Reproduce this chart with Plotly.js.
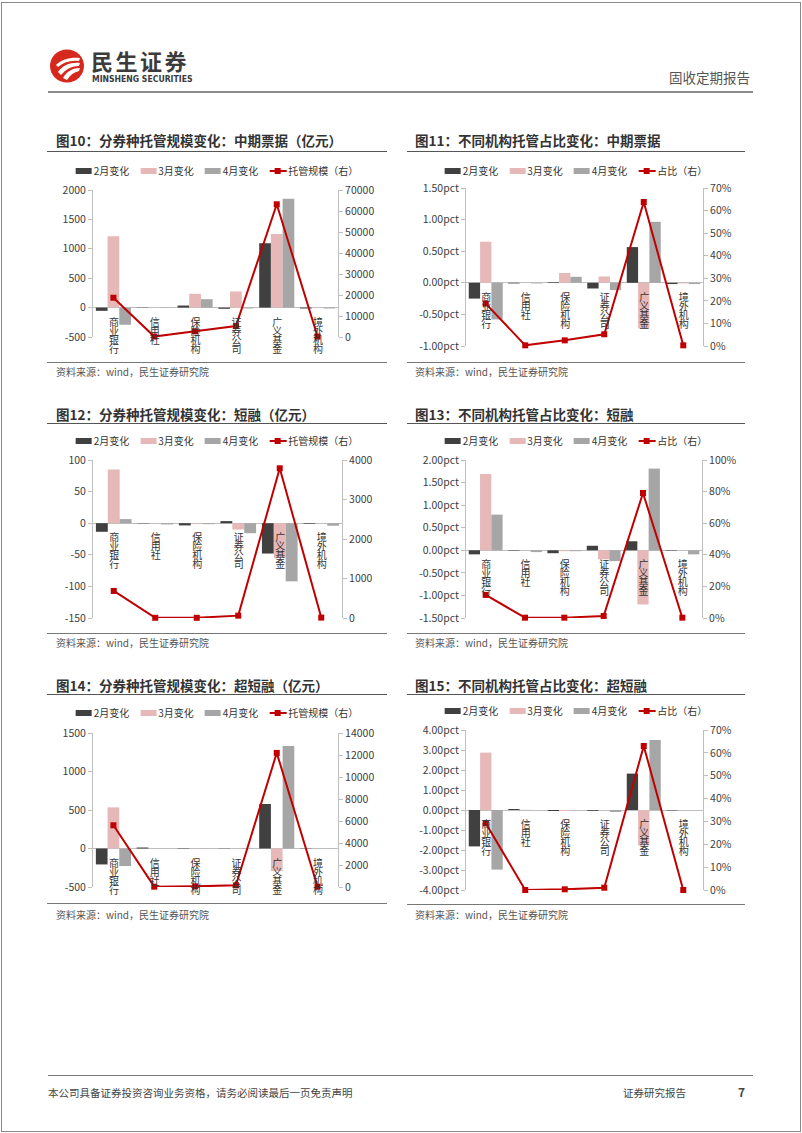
<!DOCTYPE html>
<html>
<head>
<meta charset="utf-8">
<script src="https://cdn.plot.ly/plotly-3.0.1.min.js"></script>
<style>
  html, body { margin: 0; padding: 0; background: #fff; }
  body { width: 802px; height: 1133px; position: relative; overflow: hidden;
         font-family: "Noto Sans CJK SC", "Noto Sans", sans-serif; }
  .abs { position: absolute; white-space: nowrap; }
  .frame { position: absolute; left: 1px; top: 2px; width: 798px; height: 1128px; border: 1px solid #8a8a8a; }
  .title { font-size: 13.5px; font-weight: bold; color: #333; line-height: 18px; }
  .tline { position: absolute; height: 0; border-top: 1.5px solid #555; }
  .sline { position: absolute; height: 0; border-top: 1px solid #777; }
  .src { font-size: 10px; color: #555; line-height: 14px; }
  .chart { position: absolute; }
  .legend { position: absolute; display: flex; align-items: center; transform: translate(-50%, -50%);
            font-size: 10px; color: #333; line-height: 14px; white-space: nowrap; }
  .legend .item { display: flex; align-items: center; margin-right: 11px; }
  .legend .item:last-child { margin-right: 0; }
  .legend .sw { width: 16px; height: 6px; margin-right: 2px; }
  .legend .ln { position: relative; width: 17px; height: 2px; margin-right: 2px; }
  .legend .ln i { position: absolute; left: 5.5px; top: -2px; width: 6px; height: 6px; }
  .catlab { position: absolute; writing-mode: vertical-rl; text-orientation: upright;
            font-size: 10px; letter-spacing: -1px; line-height: 10px; color: #333;
            transform: translateX(-50%); white-space: nowrap; }
</style>
</head>
<body>
<div class="frame"></div>

<!-- header -->
<svg class="abs" style="left:49px;top:48px" width="38" height="38" viewBox="0 0 38 38">
  <ellipse cx="18" cy="18" rx="17" ry="16.5" fill="#d7281e"/>
  <path d="M7 17 C13 11 22 9 31 10 L30 13 C22 12 15 14 9 19 Z" fill="#fff"/>
  <path d="M9 24 C14 17 22 14 31 15 L30 18 C23 18 17 21 12 27 Z" fill="#fff"/>
  <path d="M14 30 C18 23 24 20 31 20 L30 23 C25 24 21 27 18 32 Z" fill="#fff"/>
</svg>
<div class="abs" style="left:91px;top:46px;font-size:22px;font-weight:bold;color:#3b3b3b;letter-spacing:2.5px;line-height:28px;">民生证券</div>
<div class="abs" style="left:92px;top:73px;font-size:8.6px;font-weight:bold;color:#3b3b3b;line-height:12px;font-family:'Liberation Sans Narrow','DejaVu Sans Condensed','Liberation Sans',sans-serif;">MINSHENG SECURITIES</div>
<div class="abs" style="left:669px;top:68px;font-size:13.5px;color:#555;line-height:18px;">固收定期报告</div>
<div class="tline" style="left:48px;top:91px;width:705px;border-top:2px solid #8c8c8c;"></div>

<!-- titles -->
<div class="abs title" style="left:56px;top:131px;">图10：分券种托管规模变化：中期票据（亿元）</div>
<div class="tline" style="left:47px;top:151px;width:340px;"></div>
<div class="abs title" style="left:415px;top:131px;">图11：不同机构托管占比变化：中期票据</div>
<div class="tline" style="left:407px;top:151px;width:338px;"></div>

<div class="abs title" style="left:56px;top:405px;">图12：分券种托管规模变化：短融（亿元）</div>
<div class="tline" style="left:47px;top:423px;width:340px;"></div>
<div class="abs title" style="left:415px;top:405px;">图13：不同机构托管占比变化：短融</div>
<div class="tline" style="left:407px;top:423px;width:338px;"></div>

<div class="abs title" style="left:56px;top:676px;">图14：分券种托管规模变化：超短融（亿元）</div>
<div class="tline" style="left:47px;top:694px;width:340px;"></div>
<div class="abs title" style="left:415px;top:676px;">图15：不同机构托管占比变化：超短融</div>
<div class="tline" style="left:407px;top:694px;width:338px;"></div>

<!-- charts -->
<div id="c10" class="chart"></div>
<div id="c11" class="chart"></div>
<div id="c12" class="chart"></div>
<div id="c13" class="chart"></div>
<div id="c14" class="chart"></div>
<div id="c15" class="chart"></div>

<!-- sources -->
<div class="sline" style="left:47px;top:362px;width:340px;"></div>
<div class="abs src" style="left:56px;top:365px;">资料来源：wind，民生证券研究院</div>
<div class="sline" style="left:407px;top:362px;width:338px;"></div>
<div class="abs src" style="left:415px;top:365px;">资料来源：wind，民生证券研究院</div>

<div class="sline" style="left:47px;top:633px;width:340px;"></div>
<div class="abs src" style="left:56px;top:636px;">资料来源：wind，民生证券研究院</div>
<div class="sline" style="left:407px;top:633px;width:338px;"></div>
<div class="abs src" style="left:415px;top:636px;">资料来源：wind，民生证券研究院</div>

<div class="sline" style="left:47px;top:903px;width:340px;"></div>
<div class="abs src" style="left:56px;top:908px;">资料来源：wind，民生证券研究院</div>
<div class="sline" style="left:407px;top:904px;width:338px;"></div>
<div class="abs src" style="left:415px;top:908px;">资料来源：wind，民生证券研究院</div>

<!-- footer -->
<div class="tline" style="left:48px;top:1075px;width:705px;border-top:1.5px solid #777;"></div>
<div class="abs" style="left:48px;top:1085px;font-size:10.5px;color:#444;line-height:15px;">本公司具备证券投资咨询业务资格，请务必阅读最后一页免责声明</div>
<div class="abs" style="left:623px;top:1085px;font-size:10.5px;color:#444;line-height:15px;">证券研究报告</div>
<div class="abs" style="left:738px;top:1084px;font-size:12px;font-weight:bold;color:#444;line-height:16px;">7</div>

<script>
// ---------------- data ----------------
const categories = ['商业银行', '信用社', '保险机构', '证券公司', '广义基金', '境外机构'];
const seriesNames = ['2月变化', '3月变化', '4月变化'];

// 图10 中期票据 托管规模变化（亿元）
const mtnScaleFeb = [-55, -5, 35, -20, 1095, -15];
const mtnScaleMar = [1215, -3, 235, 275, 1250, -5];
const mtnScaleApr = [-292, -5, 143, -15, 1852, -15];
const mtnScaleTotal = [18700, 200, 2700, 5200, 63200, 200];
const mtnScaleLeftTicks = [-500, 0, 500, 1000, 1500, 2000];
const mtnScaleLeftLabels = ['-500', '0', '500', '1000', '1500', '2000'];
const mtnScaleRightTicks = [0, 10000, 20000, 30000, 40000, 50000, 60000, 70000];
const mtnScaleRightLabels = ['0', '10000', '20000', '30000', '40000', '50000', '60000', '70000'];

// 图11 中期票据 占比变化
const mtnShareFeb = [-0.25, -0.01, 0.01, -0.09, 0.565, -0.02];
const mtnShareMar = [0.65, 0.0, 0.155, 0.10, -0.72, -0.01];
const mtnShareApr = [-0.58, -0.01, 0.095, -0.115, 0.965, -0.02];
const mtnShareTotal = [18.8, 0.3, 2.5, 5.2, 63.8, 0.3];
const mtnShareLeftTicks = [-1.0, -0.5, 0, 0.5, 1.0, 1.5];
const mtnShareLeftLabels = ['-1.00pct', '-0.50pct', '0.00pct', '0.50pct', '1.00pct', '1.50pct'];
const mtnShareRightTicks = [0, 10, 20, 30, 40, 50, 60, 70];
const mtnShareRightLabels = ['0%', '10%', '20%', '30%', '40%', '50%', '60%', '70%'];

// 图12 短融 托管规模变化（亿元）
const cpScaleFeb = [-13.6, -0.5, -3.5, 3.3, -48, -1];
const cpScaleMar = [85, 0, -1, -10, -55, 0];
const cpScaleApr = [6.5, -2, -1.5, -15.8, -92, -4];
const cpScaleTotal = [685, 5, 5, 60, 3790, 10];
const cpScaleLeftTicks = [-150, -100, -50, 0, 50, 100];
const cpScaleLeftLabels = ['-150', '-100', '-50', '0', '50', '100'];
const cpScaleRightTicks = [0, 1000, 2000, 3000, 4000];
const cpScaleRightLabels = ['0', '1000', '2000', '3000', '4000'];

// 图13 短融 占比变化
const cpShareFeb = [-0.09, -0.01, -0.065, 0.10, 0.20, -0.01];
const cpShareMar = [1.69, 0, -0.02, -0.20, -1.20, 0];
const cpShareApr = [0.79, -0.04, -0.02, -0.24, 1.81, -0.09];
const cpShareTotal = [14.6, 0.2, 0.2, 1.3, 79.1, 0.2];
const cpShareLeftTicks = [-1.5, -1.0, -0.5, 0, 0.5, 1.0, 1.5, 2.0];
const cpShareLeftLabels = ['-1.50pct', '-1.00pct', '-0.50pct', '0.00pct', '0.50pct', '1.00pct', '1.50pct', '2.00pct'];
const cpShareRightTicks = [0, 20, 40, 60, 80, 100];
const cpShareRightLabels = ['0%', '20%', '40%', '60%', '80%', '100%'];

// 图14 超短融 托管规模变化（亿元）
const scpScaleFeb = [-207, 13, -5, -3, 578, -3];
const scpScaleMar = [534, 0, -3, 2, -293, 0];
const scpScaleApr = [-228, 1, 2, -4, 1332, -2];
const scpScaleTotal = [5610, 30, 60, 150, 12190, 30];
const scpScaleLeftTicks = [-500, 0, 500, 1000, 1500];
const scpScaleLeftLabels = ['-500', '0', '500', '1000', '1500'];
const scpScaleRightTicks = [0, 2000, 4000, 6000, 8000, 10000, 12000, 14000];
const scpScaleRightLabels = ['0', '2000', '4000', '6000', '8000', '10000', '12000', '14000'];

// 图15 超短融 占比变化
const scpShareFeb = [-1.82, 0.05, -0.05, -0.04, 1.82, -0.02];
const scpShareMar = [2.87, 0.01, -0.05, -0.02, -1.77, 0];
const scpShareApr = [-2.98, 0, 0, -0.10, 3.50, 0];
const scpShareTotal = [29.2, 0, 0.3, 1.0, 63.0, 0];
const scpShareLeftTicks = [-4, -3, -2, -1, 0, 1, 2, 3, 4];
const scpShareLeftLabels = ['-4.00pct', '-3.00pct', '-2.00pct', '-1.00pct', '0.00pct', '1.00pct', '2.00pct', '3.00pct', '4.00pct'];
const scpShareRightTicks = [0, 10, 20, 30, 40, 50, 60, 70];
const scpShareRightLabels = ['0%', '10%', '20%', '30%', '40%', '50%', '60%', '70%'];

// ---------------- styles ----------------
const barColors = ['#404040', '#e6b9b8', '#a6a6a6'];
const lineColor = '#c00000';
const FONT = '"Noto Sans CJK SC", "Noto Sans", sans-serif';

function buildLegend(cx, cy, lineName) {
  const lg = document.createElement('div');
  lg.className = 'legend';
  lg.style.left = cx + 'px';
  lg.style.top = cy + 'px';
  seriesNames.forEach((n, i) => {
    const it = document.createElement('div');
    it.className = 'item';
    const sw = document.createElement('span');
    sw.className = 'sw';
    sw.style.background = barColors[i];
    const tx = document.createElement('span');
    tx.textContent = n;
    it.appendChild(sw); it.appendChild(tx);
    lg.appendChild(it);
  });
  const it = document.createElement('div');
  it.className = 'item';
  const ln = document.createElement('span');
  ln.className = 'ln';
  ln.style.background = lineColor;
  const mk = document.createElement('i');
  mk.style.background = lineColor;
  ln.appendChild(mk);
  const tx = document.createElement('span');
  tx.textContent = lineName;
  it.appendChild(ln); it.appendChild(tx);
  lg.appendChild(it);
  document.body.appendChild(lg);
}

function makeChart(id, bars, total, lineName, lt, ll, rt, rl, p) {
  // p: page coords of plot area {x0,x1,y0,y1}, column left, legend center
  const divL = p.col, divT = p.y0 - 20, divW = 350, divH = (p.y1 - p.y0) + 32;
  const el = document.getElementById(id);
  el.style.left = divL + 'px';
  el.style.top = divT + 'px';

  const traces = bars.map((vals, i) => ({
    type: 'bar', name: seriesNames[i], x: categories, y: vals,
    marker: { color: barColors[i] }, yaxis: 'y', hoverinfo: 'skip'
  }));
  traces.push({
    type: 'scatter', mode: 'lines+markers', name: lineName, x: categories, y: total,
    yaxis: 'y2', line: { color: lineColor, width: 2 },
    marker: { color: lineColor, symbol: 'square', size: 6 }, cliponaxis: false, hoverinfo: 'skip'
  });

  const axisCommon = {
    showgrid: false, showline: true, linecolor: '#bfbfbf', linewidth: 1,
    ticks: 'outside', ticklen: 4, tickcolor: '#bfbfbf',
    tickfont: { family: FONT, size: 10.5, color: '#404040' }, fixedrange: true
  };

  const layout = {
    width: divW, height: divH,
    margin: { l: p.x0 - divL, r: divL + divW - p.x1, t: 20, b: 12, pad: 0, autoexpand: false },
    paper_bgcolor: 'rgba(0,0,0,0)', plot_bgcolor: 'rgba(0,0,0,0)',
    barmode: 'group', bargap: 0.14, bargroupgap: 0,
    font: { family: FONT, size: 10, color: '#404040' },
    xaxis: { type: 'category', showticklabels: false, showline: false, ticks: '',
             showgrid: false, zeroline: false, range: [-0.5, categories.length - 0.5], fixedrange: true },
    yaxis: Object.assign({}, axisCommon, {
      range: [lt[0], lt[lt.length - 1]], tickmode: 'array', tickvals: lt, ticktext: ll,
      zeroline: true, zerolinecolor: '#bfbfbf', zerolinewidth: 1
    }),
    yaxis2: Object.assign({}, axisCommon, {
      overlaying: 'y', side: 'right', range: [rt[0], rt[rt.length - 1]],
      tickmode: 'array', tickvals: rt, ticktext: rl, zeroline: false
    }),
    showlegend: false
  };

  buildLegend(p.legX, p.legY, lineName);

  Plotly.newPlot(el, traces, layout, { staticPlot: true, displayModeBar: false }).then(gd => {
    const fl = gd._fullLayout;
    const xa = fl.xaxis, ya = fl.yaxis;
    const zeroY = divT + ya._offset + ya.l2p(0);
    categories.forEach((cat, c) => {
      const d = document.createElement('div');
      d.className = 'catlab';
      d.textContent = cat;
      d.style.left = (divL + xa._offset + xa.l2p(c)) + 'px';
      d.style.top = (zeroY + 9) + 'px';
      document.body.appendChild(d);
    });
  });
}

makeChart('c10', [mtnScaleFeb, mtnScaleMar, mtnScaleApr], mtnScaleTotal, '托管规模（右）',
  mtnScaleLeftTicks, mtnScaleLeftLabels, mtnScaleRightTicks, mtnScaleRightLabels,
  { col: 40, x0: 93, x1: 338, y0: 190, y1: 337, legX: 217, legY: 171 });
makeChart('c11', [mtnShareFeb, mtnShareMar, mtnShareApr], mtnShareTotal, '占比（右）',
  mtnShareLeftTicks, mtnShareLeftLabels, mtnShareRightTicks, mtnShareRightLabels,
  { col: 400, x0: 466, x1: 703, y0: 188, y1: 346, legX: 576, legY: 171 });
makeChart('c12', [cpScaleFeb, cpScaleMar, cpScaleApr], cpScaleTotal, '托管规模（右）',
  cpScaleLeftTicks, cpScaleLeftLabels, cpScaleRightTicks, cpScaleRightLabels,
  { col: 40, x0: 93, x1: 342, y0: 460, y1: 618, legX: 217, legY: 441 });
makeChart('c13', [cpShareFeb, cpShareMar, cpShareApr], cpShareTotal, '占比（右）',
  cpShareLeftTicks, cpShareLeftLabels, cpShareRightTicks, cpShareRightLabels,
  { col: 400, x0: 466, x1: 702, y0: 460, y1: 618, legX: 576, legY: 441 });
makeChart('c14', [scpScaleFeb, scpScaleMar, scpScaleApr], scpScaleTotal, '托管规模（右）',
  scpScaleLeftTicks, scpScaleLeftLabels, scpScaleRightTicks, scpScaleRightLabels,
  { col: 40, x0: 93, x1: 338, y0: 733, y1: 887, legX: 217, legY: 713 });
makeChart('c15', [scpShareFeb, scpShareMar, scpShareApr], scpShareTotal, '占比（右）',
  scpShareLeftTicks, scpShareLeftLabels, scpShareRightTicks, scpShareRightLabels,
  { col: 400, x0: 466, x1: 703, y0: 730, y1: 890, legX: 576, legY: 711 });
</script>
</body>
</html>
